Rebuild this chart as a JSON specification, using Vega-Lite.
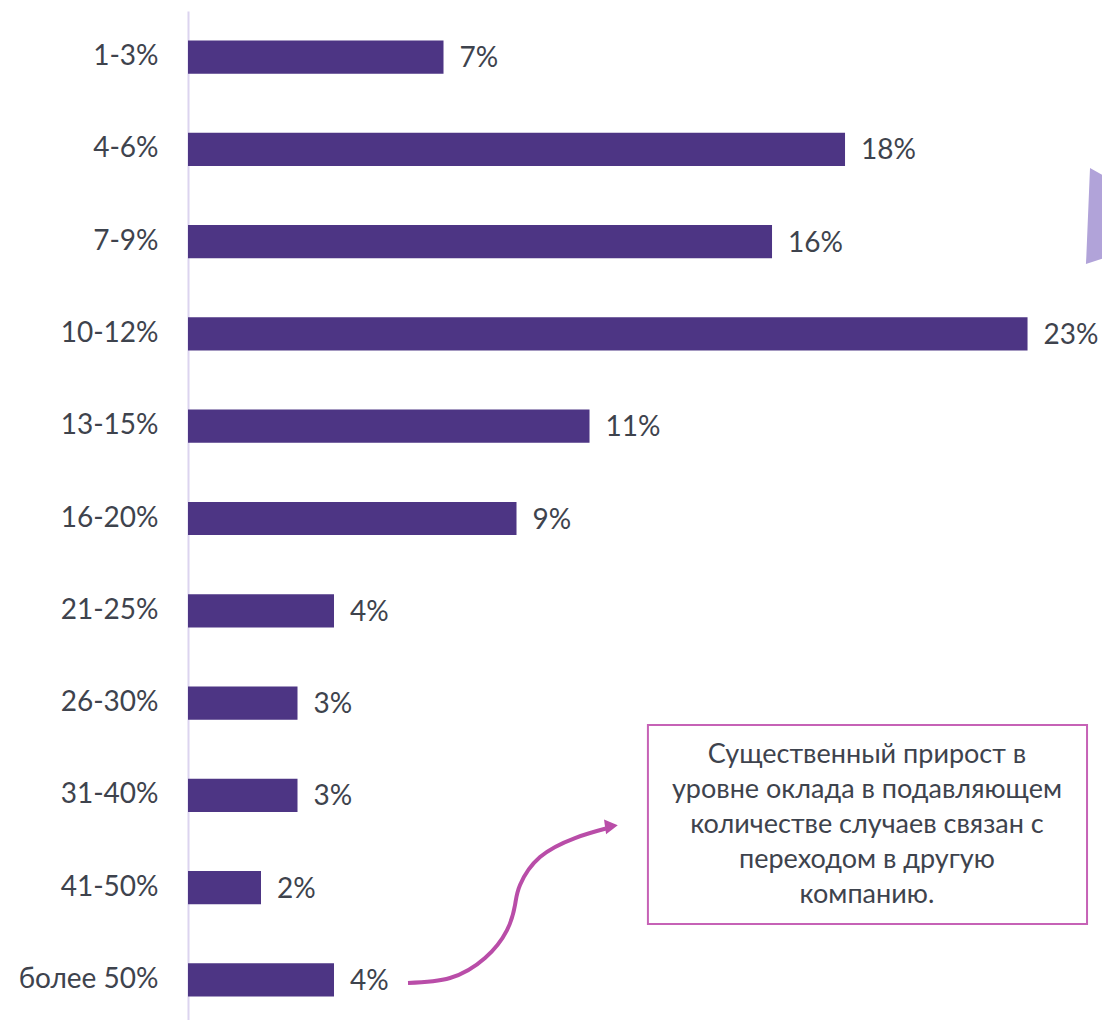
{
  "$schema": "https://vega.github.io/schema/vega-lite/v6.json",
  "autosize": "none",
  "padding": {"left": 188, "top": 11, "right": 0, "bottom": 0},
  "width": 914,
  "height": 1015,
  "background": "white",
  "config": {"view": {"stroke": null}},
  "datasets": {
    "bars": [
      {"cat": "1-3%", "val": 7, "label": "7%"},
      {"cat": "4-6%", "val": 18, "label": "18%"},
      {"cat": "7-9%", "val": 16, "label": "16%"},
      {"cat": "10-12%", "val": 23, "label": "23%"},
      {"cat": "13-15%", "val": 11, "label": "11%"},
      {"cat": "16-20%", "val": 9, "label": "9%"},
      {"cat": "21-25%", "val": 4, "label": "4%"},
      {"cat": "26-30%", "val": 3, "label": "3%"},
      {"cat": "31-40%", "val": 3, "label": "3%"},
      {"cat": "41-50%", "val": 2, "label": "2%"},
      {"cat": "более 50%", "val": 4, "label": "4%"}
    ],
    "box": [{"x1": 12.6, "x2": 24.63, "y1": 7.738, "y2": 9.895}],
    "note": [
      {"x": 18.6, "y": 8.063, "t": "Существенный прирост в"},
      {"x": 18.6, "y": 8.443, "t": "уровне оклада в подавляющем"},
      {"x": 18.6, "y": 8.822, "t": "количестве случаев связан с"},
      {"x": 18.6, "y": 9.201, "t": "переходом в другую"},
      {"x": 18.6, "y": 9.58, "t": "компанию."}
    ],
    "arrow": [
      {"o": 1, "x": 6.027, "y": 10.534},
      {"o": 2, "x": 7.178, "y": 10.48},
      {"o": 3, "x": 8.137, "y": 10.263},
      {"o": 4, "x": 8.74, "y": 9.96},
      {"o": 5, "x": 8.959, "y": 9.689},
      {"o": 6, "x": 9.096, "y": 9.472},
      {"o": 7, "x": 9.644, "y": 9.169},
      {"o": 8, "x": 10.603, "y": 8.963},
      {"o": 9, "x": 11.45, "y": 8.86}
    ],
    "head": [{"x": 11.6, "y": 8.833}],
    "shape": [
      {"y": 1.7014, "x1": 24.712, "x2": 24.712},
      {"y": 1.8098, "x1": 24.70, "x2": 25.2},
      {"y": 2.666, "x1": 24.61, "x2": 25.2},
      {"y": 2.742, "x1": 24.60, "x2": 24.60}
    ]
  },
  "layer": [
    {
      "layer": [
        {
          "data": {"name": "bars"},
          "mark": {"type": "bar", "color": "#4D3584"},
          "encoding": {
            "y": {
              "field": "cat", "type": "nominal", "sort": null,
              "scale": {"paddingInner": 0.64, "paddingOuter": 0.32},
              "axis": {
                "title": null, "ticks": false, "tickSize": 0, "labelPadding": 30,
                "labelFont": "Lato", "labelFontSize": 28, "labelColor": "#3E434D",
                "domainColor": "#DCD4EF", "domainWidth": 2, "grid": false
              }
            },
            "x": {
              "field": "val", "type": "quantitative",
              "scale": {"domain": [0, 25.04], "nice": false, "zero": true},
              "axis": null
            }
          }
        },
        {
          "data": {"name": "bars"},
          "mark": {"type": "text", "align": "left", "baseline": "middle", "dx": 16, "dy": 2, "font": "Lato", "fontSize": 28, "color": "#3E434D"},
          "encoding": {
            "y": {"field": "cat", "type": "nominal", "sort": null},
            "x": {"field": "val", "type": "quantitative"},
            "text": {"field": "label"}
          }
        }
      ]
    },
    {
      "layer": [
        {
          "data": {"name": "shape"},
          "mark": {"type": "area", "orient": "horizontal", "color": "#B1A3D9", "clip": true},
          "encoding": {
            "y": {"field": "y", "type": "quantitative", "scale": {"domain": [0, 11], "reverse": true, "nice": false, "zero": false}, "axis": null},
            "x": {"field": "x1", "type": "quantitative"},
            "x2": {"field": "x2"}
          }
        },
        {
          "data": {"name": "box"},
          "mark": {"type": "rect", "fill": "white", "stroke": "#C662B6", "strokeWidth": 2},
          "encoding": {
            "x": {"field": "x1", "type": "quantitative"},
            "x2": {"field": "x2"},
            "y": {"field": "y1", "type": "quantitative"},
            "y2": {"field": "y2"}
          }
        },
        {
          "data": {"name": "note"},
          "mark": {"type": "text", "align": "center", "baseline": "middle", "font": "Lato", "fontSize": 27, "color": "#3E434D"},
          "encoding": {
            "x": {"field": "x", "type": "quantitative"},
            "y": {"field": "y", "type": "quantitative"},
            "text": {"field": "t"}
          }
        },
        {
          "data": {"name": "arrow"},
          "mark": {"type": "line", "color": "#B94DA8", "strokeWidth": 4, "interpolate": "natural"},
          "encoding": {
            "x": {"field": "x", "type": "quantitative"},
            "y": {"field": "y", "type": "quantitative"},
            "order": {"field": "o"}
          }
        },
        {
          "data": {"name": "head"},
          "mark": {"type": "point", "shape": "triangle-right", "filled": true, "opacity": 1, "color": "#B94DA8", "size": 220, "angle": -8},
          "encoding": {
            "x": {"field": "x", "type": "quantitative"},
            "y": {"field": "y", "type": "quantitative"}
          }
        }
      ]
    }
  ],
  "resolve": {"scale": {"y": "independent"}}
}
